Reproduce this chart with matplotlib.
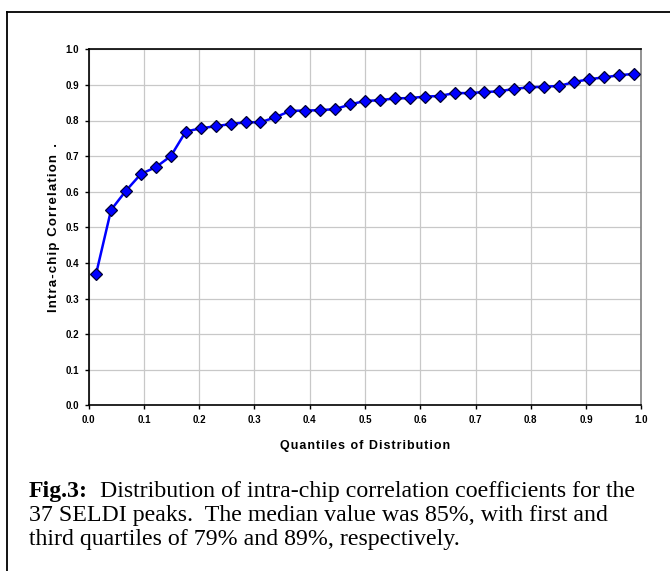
import matplotlib.pyplot as plt
from matplotlib.lines import Line2D

# quantile positions of the 37 peaks and their intra-chip correlations
quantiles = [0.0135, 0.0405, 0.0676, 0.0946, 0.1216, 0.1486, 0.1757, 0.2027,
             0.2297, 0.2568, 0.2838, 0.3108, 0.3378, 0.3649, 0.3919, 0.4189,
             0.4459, 0.4730, 0.5000, 0.5270, 0.5541, 0.5811, 0.6081, 0.6351,
             0.6622, 0.6892, 0.7162, 0.7432, 0.7703, 0.7973, 0.8243, 0.8514,
             0.8784, 0.9054, 0.9324, 0.9595, 0.9865]
correlations = [0.370, 0.549, 0.603, 0.650, 0.669, 0.700, 0.769, 0.778,
                0.784, 0.790, 0.795, 0.795, 0.809, 0.827, 0.828, 0.829,
                0.832, 0.845, 0.855, 0.857, 0.862, 0.863, 0.867, 0.869,
                0.877, 0.877, 0.880, 0.882, 0.889, 0.893, 0.895, 0.897,
                0.908, 0.916, 0.921, 0.927, 0.931]

x_ticks = [0.0, 0.1, 0.2, 0.3, 0.4, 0.5, 0.6, 0.7, 0.8, 0.9, 1.0]
y_ticks = [0.0, 0.1, 0.2, 0.3, 0.4, 0.5, 0.6, 0.7, 0.8, 0.9, 1.0]

x_title = "Quantiles of Distribution"
y_title = "Intra-chip Correlation"

caption_bold = "Fig.3:"
caption_lines = [
    "  Distribution of intra-chip correlation coefficients for the",
    "37 SELDI peaks.  The median value was 85%, with first and",
    "third quartiles of 79% and 89%, respectively.",
]


def spaced(s):
    # excel renders its axis titles slightly letter-spaced
    return "\u200a".join(s)


W, H = 670, 571
fig = plt.figure(figsize=(W / 100, H / 100), dpi=100)
fig.patch.set_facecolor('white')

# outer frame (top and left edges visible)
fig.add_artist(Line2D([7 / W, 1.0], [1 - 11.5 / H, 1 - 11.5 / H], color='black', lw=1.3))
fig.add_artist(Line2D([7 / W, 7 / W], [1 - 11.5 / H, 0.0], color='black', lw=1.3))

ax = fig.add_axes([88.7 / W, 1 - 405.3 / H, (641.3 - 88.7) / W, (405.3 - 49.3) / H])

ax.plot(quantiles, correlations, color='#0000FF', lw=1.8, marker='D', ms=6,
        markerfacecolor='#0000FF', markeredgecolor='#000033', markeredgewidth=0.9,
        zorder=3)

ax.set_xlim(0, 1)
ax.set_ylim(0, 1)
ax.set_xticks(x_ticks)
ax.set_yticks(y_ticks)
ax.set_xticklabels([f"{v:.1f}" for v in x_ticks])
ax.set_yticklabels([f"{v:.1f}" for v in y_ticks])
ax.grid(True, color='#c8c8c8', lw=0.9)
ax.set_axisbelow(True)

for lab in ax.get_xticklabels() + ax.get_yticklabels():
    lab.set_family('Liberation Sans')
    lab.set_fontweight('bold')
    lab.set_fontsize(7)
ax.tick_params(direction='out', length=3, width=1, pad=4, colors='black')

for side in ['left', 'bottom', 'top']:
    ax.spines[side].set_color('black')
    ax.spines[side].set_linewidth(1.2)
ax.spines['right'].set_color('#808080')
ax.spines['right'].set_linewidth(1.2)

fam = ['Liberation Sans', 'DejaVu Sans']
ax.set_xlabel(spaced(x_title), family=fam, fontweight='bold', fontsize=9, labelpad=11)
ax.set_ylabel(spaced(y_title) + "  .", family=fam, fontweight='bold', fontsize=9.5,
              labelpad=4)

# caption below the chart
cap_size = 17.2
y0 = 1 - 491 / H
step = 24 / H
t = fig.text(29 / W, y0, caption_bold, family='Liberation Serif', fontweight='bold',
             fontsize=cap_size, va='center', ha='left')
fig.canvas.draw()
bb = t.get_window_extent()
fig.text(bb.x1 / W, y0, caption_lines[0], family='Liberation Serif',
         fontsize=cap_size, va='center', ha='left')
for i, line in enumerate(caption_lines[1:], start=1):
    fig.text(29 / W, y0 - i * step, line, family='Liberation Serif',
             fontsize=cap_size, va='center', ha='left')

fig.savefig('out.png', dpi=100)
